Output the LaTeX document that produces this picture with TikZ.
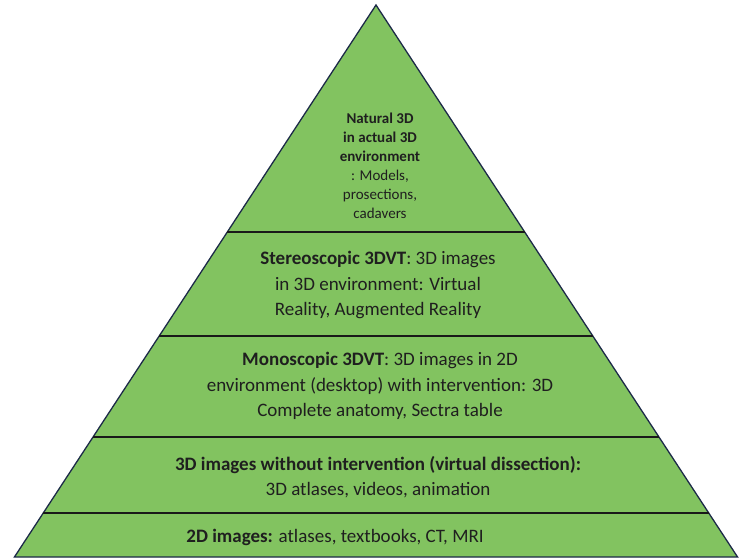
\documentclass[tikz,border=0pt]{standalone}
\usepackage{fontspec}
\setmainfont{Carlito}
\definecolor{pyrgreen}{RGB}{130,195,96}
\definecolor{pyredge}{RGB}{28,42,72}
\tikzset{
  pyrside/.style={draw=pyredge, line width=1.3pt, fill=pyrgreen, line join=miter},
  divider/.style={draw=black!90, line width=2pt},
  tiertext/.style={align=center, text=black!88, inner sep=0pt, font=\fontsize{19}{25.5}\selectfont},
  toptext/.style={align=center, text=black!88, inner sep=0pt, font=\fontsize{15}{19}\selectfont}
}
\begin{document}
\begin{tikzpicture}[x=1pt,y=-1pt]
        \pgfmathsetmacro\ax{376};
        \pgfmathsetmacro\ay{5};
        \pgfmathsetmacro\s{0.655};

        \useasboundingbox (0,0) rectangle (739,558);
        \fill[white] (0,0) rectangle (739,558);

        \path[pyrside] (\ax,\ay) -- ({\ax - \s * (557 - \ay)}, 557) -- ({\ax + \s * (557 - \ay)}, 557) -- cycle;

        \foreach \h in {232, 336, 437, 513}
            \draw[divider] ({\ax - \s * (\h - \ay)}, \h) -- ({\ax + \s * (\h - \ay)}, \h);

        \node[toptext] (natural) at (380, 166) {\textbf{Natural 3D}\\\textbf{in actual 3D}\\\textbf{environment}\\: Models,\\prosections,\\cadavers};
        \node[tiertext] (stereo) at (378, 285) {\textbf{Stereoscopic 3DVT}: 3D images\\in 3D environment: Virtual\\Reality, Augmented Reality};
        \node[tiertext] (mono) at (380, 386) {\textbf{Monoscopic 3DVT}: 3D images in 2D\\environment (desktop) with intervention: 3D\\Complete anatomy, Sectra table};
        \node[tiertext] (noint) at (378, 477) {\textbf{3D images without intervention (virtual dissection):}\\3D atlases, videos, animation};
        \node[tiertext] (flat) at (335, 537) {\textbf{2D images:} atlases, textbooks, CT, MRI};
\end{tikzpicture}
\end{document}
